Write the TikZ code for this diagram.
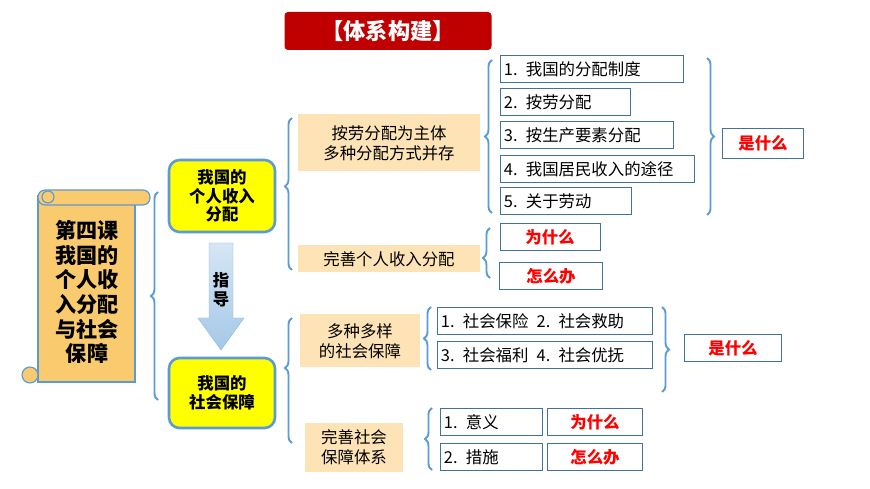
\documentclass[tikz,border=0pt]{standalone}
\usepackage{fontspec}
\setmainfont{Noto Sans CJK SC}
\usetikzlibrary{positioning,decorations.pathreplacing}
\definecolor{lnblue}{HTML}{5B9BD5}
\definecolor{bdblue}{HTML}{41719C}
\definecolor{ttred}{HTML}{C00000}
\definecolor{scrollorg}{HTML}{F9CB6E}
\definecolor{beige}{HTML}{FDE3B5}
\definecolor{ylw}{HTML}{FFFF00}
\newcommand\px{0.03cm}
\begin{document}
\begin{tikzpicture}[x=0.03cm,y=-0.03cm,
  wbox/.style={draw=bdblue,fill=white,line width=0.8pt,minimum height=27*\px,
              inner sep=2pt,font=\fontsize{14}{16}\selectfont},
  wlbox/.style={wbox,anchor=west,text width=#1*\px-6pt,minimum width=#1*\px,align=left},
  rbox/.style={wbox,minimum width=#1*\px,text=red,font=\fontsize{14}{16}\selectfont\bfseries},
  bgbox/.style={fill=beige,minimum width=#1*\px,align=center,inner sep=2pt,
              font=\fontsize{14}{17}\selectfont},
  ybox/.style={draw=lnblue,line width=2.2pt,fill=ylw,rounded corners=9pt,
              minimum width=106*\px,align=center,font=\fontsize{14}{16}\selectfont\bfseries},
  brc/.style={draw=lnblue,line width=1.6pt,decorate,decoration={brace,amplitude=6pt,aspect=#1}},
  brc/.default=0.5
]
\useasboundingbox (0,0) rectangle (870,489);

% ---- Title -------------------------------------------------
\node[fill=ttred,rounded corners=3pt,minimum width=207*\px,minimum height=38*\px,
  text=white,font=\fontsize{19}{21}\selectfont\bfseries] (ttl) at (388,31) {【体系构建】};

% ---- Scroll ------------------------------------------------
\fill[scrollorg,draw=lnblue,line width=1pt] (38,196) rectangle (135,382);
\draw[fill=scrollorg,draw=lnblue,line width=1pt,rounded corners=6pt] (38,190) rectangle (150,205);
\draw[fill=scrollorg,draw=lnblue,line width=1pt] (30,375) circle (8);
\draw[fill=scrollorg,draw=lnblue,line width=1pt] (48,197) circle (6);
\node[align=center,font=\fontsize{18}{21}\selectfont\bfseries] (scr) at (87,292)
  {第四课\\我国的\\个人收\\入分配\\与社会\\保障};

% ---- Main nodes --------------------------------------------
\node[ybox,minimum height=72*\px] (inc) at (222,196) {我国的\\个人收入\\分配};
\node[ybox,minimum height=70*\px] (sec) at (222,393) {我国的\\社会保障};
\shade[top color=lnblue!25,bottom color=lnblue!55,draw=lnblue!70]
  (209,243) -- (233,243) -- (233,318) -- (244,318) -- (221,350) -- (198,318) -- (209,318) -- cycle;
\node[align=center,font=\fontsize{14}{16}\selectfont\bfseries] (gd) at (221,290) {指\\导};

% ---- Level 2 -----------------------------------------------
\node[bgbox=182,minimum height=57*\px] (dist) at (389,143) {按劳分配为主体\\多种分配方式并存};
\node[bgbox=182,minimum height=27*\px] (imp) at (389,259) {完善个人收入分配};
\node[bgbox=120,minimum height=53*\px] (var) at (360,341) {多种多样\\的社会保障};
\node[bgbox=98,minimum height=49*\px] (sys) at (354,447) {完善社会\\保障体系};

% ---- Level 3 -----------------------------------------------
\node[wlbox=183] (d1) at (500,69) {1. 我国的分配制度};
\node[wlbox=130] (d2) at (500,102) {2. 按劳分配};
\node[wlbox=173] (d3) at (500,135) {3. 按生产要素分配};
\node[wlbox=194] (d4) at (500,169) {4. 我国居民收入的途径};
\node[wlbox=131] (d5) at (500,201) {5. 关于劳动};
\node[rbox=81,minimum height=30*\px] (w1) at (763,143) {是什么};
\node[rbox=100] (y1) at (550,237) {为什么};
\node[rbox=103] (h1) at (551,276) {怎么办};
\node[wlbox=215] (s1) at (437,321) {1. 社会保险\enspace 2. 社会救助};
\node[wlbox=215] (s2) at (437,355) {3. 社会福利\enspace 4. 社会优抚};
\node[rbox=97] (w2) at (733,348) {是什么};
\node[wlbox=102] (m1) at (440,422) {1. 意义};
\node[wlbox=102] (m2) at (440,457) {2. 措施};
\node[rbox=95] (y2) at (595,422) {为什么};
\node[rbox=95] (h2) at (595,457) {怎么办};

% ---- Braces ------------------------------------------------
\draw[brc=0.5] (158,400) -- (158,192);
\draw[brc=0.55] (292,270) -- (292,118);
\draw[brc=0.6] (292,443) -- (292,318);
\draw[brc=0.5] (492,213) -- (492,60);
\draw[brc=0.4] (490,278) -- (490,228);
\draw[brc=0.5] (431,370) -- (431,307);
\draw[brc=0.5] (432,470) -- (432,408);
\draw[brc=0.5] (707,58) -- (707,215);
\draw[brc=0.5] (662,307) -- (662,392);

\end{tikzpicture}
\end{document}
